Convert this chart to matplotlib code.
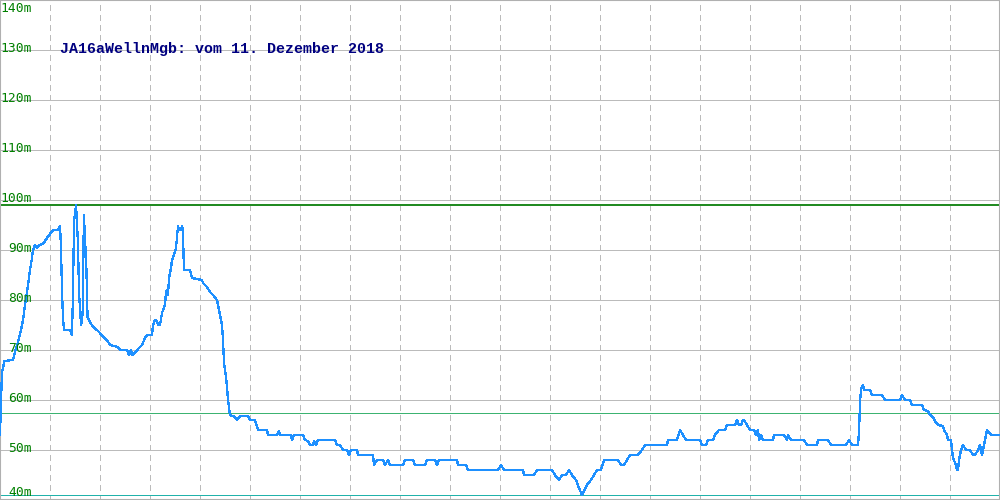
import matplotlib
matplotlib.use("Agg")
import matplotlib.pyplot as plt

# Pegel JA16aWellnMgb, 11.12.2018 (x = position along the day, 0..1000)
t = [0, 2, 3, 4, 13, 15, 18, 21, 23, 25, 28, 30, 32, 33, 35, 37, 39, 43, 47, 50,
     53, 58, 60, 61, 62, 63, 64, 70, 72, 73, 74, 76, 77, 78, 79, 81, 82, 83, 83.5, 84,
     85, 86, 87, 87.5, 90, 93, 97, 100, 103, 107, 110, 118, 120, 127, 129, 131, 132, 135, 138, 142,
     145, 147, 152, 153, 155, 157, 158, 160, 162, 163, 165, 166, 167, 168, 169, 171, 172, 174, 176, 177,
     178, 179, 181, 182, 183, 183.5, 184, 190, 192, 202, 203, 207, 210, 213, 217, 218, 220, 222, 223, 224,
     226, 227, 228, 230, 235, 237, 240, 248, 250, 255, 258, 267, 268, 277, 279, 280, 291, 292, 294, 303,
     305, 308, 310, 313, 314, 316, 318, 335, 337, 340, 343, 347, 349, 351, 357, 358, 373, 374, 377, 383,
     385, 388, 390, 403, 405, 413, 415, 425, 427, 435, 437, 439, 457, 458, 466, 468, 498, 501, 504, 523,
     524, 534, 537, 552, 555, 559, 562, 566, 569, 572, 576, 579, 582, 585, 587, 591, 594, 597, 601, 604,
     618, 621, 624, 627, 630, 638, 642, 645, 667, 668, 677, 680, 683, 686, 700, 702, 706, 708, 713, 715,
     719, 725, 727, 735, 737, 739, 741, 743, 744, 747, 750, 754, 756, 758, 759, 761, 763, 773, 774, 784,
     787, 788, 791, 804, 807, 817, 818, 828, 831, 846, 849, 852, 858, 859, 860, 861, 863, 864, 870, 872,
     882, 885, 900, 902, 905, 910, 912, 922, 924, 928, 930, 933, 935, 938, 943, 944, 947, 948, 951, 952,
     953, 956, 957, 958, 959, 961, 963, 966, 970, 973, 975, 978, 980, 981, 982, 984, 986, 987, 989, 991,
     997, 1000]
pegel = [53.0, 66.0, 66.0, 67.8, 68.0, 69.6, 71.6, 74.0, 76.0, 79.0, 83.0, 86.0, 88.4, 90.0, 91.0, 90.4, 91.0, 91.2, 92.4, 93.2,
         94.0, 94.0, 94.8, 90.6, 81.6, 76.4, 74.0, 74.0, 73.0, 81.6, 95.6, 99.0, 95.4, 91.0, 81.6, 75.0, 75.6, 79.0, 91.6, 97.0,
         91.6, 89.0, 81.6, 76.6, 75.6, 74.6, 74.0, 73.4, 72.6, 72.0, 71.0, 70.6, 70.0, 70.0, 69.0, 70.0, 69.0, 69.4, 70.2, 71.0,
         72.4, 73.0, 73.0, 75.0, 76.0, 75.8, 75.0, 75.0, 77.4, 78.0, 79.0, 81.6, 82.0, 81.0, 84.4, 86.4, 88.0, 89.0, 90.4, 92.6,
         94.8, 94.2, 94.0, 94.8, 94.0, 89.0, 86.0, 86.0, 84.4, 84.0, 83.4, 82.6, 81.6, 81.0, 80.0, 79.0, 77.0, 75.0, 72.0, 67.4,
         64.6, 62.6, 60.0, 57.0, 56.6, 56.0, 56.8, 56.8, 56.0, 56.0, 54.0, 54.0, 53.0, 53.0, 53.8, 53.0, 53.0, 52.0, 53.0, 53.0,
         52.0, 51.8, 51.0, 51.0, 51.8, 51.0, 52.0, 52.0, 51.0, 51.0, 50.0, 50.0, 49.0, 50.0, 50.0, 49.0, 49.0, 47.0, 48.0, 48.0,
         47.0, 48.0, 47.0, 47.0, 48.0, 48.0, 47.0, 47.0, 48.0, 48.0, 47.0, 48.0, 48.0, 47.0, 47.0, 46.0, 46.0, 47.0, 46.0, 46.0,
         45.0, 45.0, 46.0, 46.0, 45.0, 44.0, 45.0, 45.0, 46.0, 45.0, 44.0, 42.4, 41.0, 42.2, 43.0, 44.0, 45.0, 46.0, 46.0, 48.0,
         48.0, 47.0, 47.0, 48.0, 49.0, 49.0, 50.0, 51.0, 51.0, 52.0, 52.0, 54.0, 53.0, 52.0, 52.0, 51.0, 51.0, 52.0, 52.0, 53.0,
         54.0, 54.0, 55.0, 55.0, 56.0, 55.0, 55.0, 56.0, 56.0, 55.0, 54.0, 54.0, 53.0, 54.0, 52.0, 53.0, 52.0, 52.0, 53.0, 53.0,
         52.0, 53.0, 52.0, 52.0, 51.0, 51.0, 52.0, 52.0, 51.0, 51.0, 52.0, 51.0, 51.0, 53.6, 59.4, 62.2, 63.0, 62.0, 62.0, 61.0,
         61.0, 60.0, 60.0, 61.0, 60.0, 60.0, 59.0, 59.0, 58.0, 57.8, 57.0, 56.6, 55.8, 55.0, 54.8, 54.0, 53.0, 52.0, 52.0, 50.0,
         48.4, 47.0, 46.0, 46.0, 48.0, 50.0, 51.0, 50.0, 50.0, 49.0, 49.0, 50.0, 51.0, 50.0, 49.0, 51.0, 53.0, 54.0, 53.6, 53.0,
         53.0, 53.0]

pegel_max = 99.0
pegel_mittel = 57.4
pegel_min = 41.0

y_ticks = [40, 50, 60, 70, 80, 90, 100, 110, 120, 130, 140]
titel = "JA16aWellnMgb: vom 11. Dezember 2018"

plt.rcParams["lines.scale_dashes"] = False

fig = plt.figure(figsize=(10, 5), dpi=100)
ax = fig.add_axes([0, 0, 1, 1])
ax.set_xlim(0, 1000)
ax.set_ylim(40, 140)
ax.set_xticks([])
ax.set_yticks([])

for s in ax.spines.values():
    s.set_color("#b0b0b0")
    s.set_linewidth(1.5)

# grid
for y in y_ticks[1:-1]:
    ax.axhline(y, color="#bbbbbb", lw=0.72, antialiased=False, zorder=1)
for x in range(50, 1000, 50):
    ax.axvline(x, color="#bbbbbb", lw=0.72, ls=(0, (4, 3.5)), antialiased=False, zorder=1)

# max / mean / min reference lines
ax.axhline(pegel_max, color="#228b22", lw=1.1, antialiased=False, zorder=2)
ax.axhline(pegel_mittel, color="#3cb371", lw=0.72, antialiased=False, zorder=2)
ax.axhline(pegel_min, color="#20b2aa", lw=0.72, antialiased=False, zorder=2)

ax.plot(t, pegel, color="#1e90ff", lw=0.9, antialiased=False, zorder=3)

# y labels inside the plot
for y in y_ticks:
    if y == 140:
        va, yy = "top", y - 0.4
    elif y == 40:
        va, yy = "bottom", y + 0.1
    else:
        va, yy = "center", y + 0.3
    ax.text(32, yy, f"{y}m", color="#008000", ha="right", va=va,
            fontsize=9.4, family="DejaVu Sans Mono", zorder=4)

ax.text(60, 130.3, titel, color="#000080", ha="left", va="center",
        fontsize=10.8, family="Liberation Mono", fontweight="bold", zorder=4)

fig.savefig("out.png", dpi=100)
